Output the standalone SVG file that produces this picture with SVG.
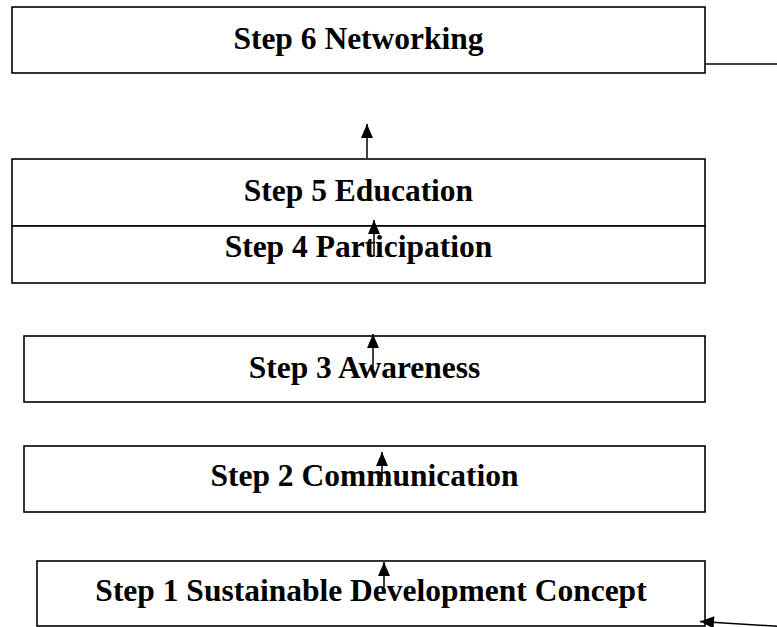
<svg xmlns="http://www.w3.org/2000/svg" width="777" height="627" viewBox="0 0 777 627">
<style>
.box{fill:#fff;stroke:#000;stroke-width:1.6}
.lbl{font-family:"Liberation Serif","Times New Roman",serif;font-weight:bold;font-size:31.5px;fill:#000;text-anchor:middle}
.con{stroke:#000;stroke-width:1.5;fill:none}
</style>
<defs>
<marker id="ah" markerUnits="userSpaceOnUse" markerWidth="14" markerHeight="12" refX="14" refY="6" orient="auto" overflow="visible">
<path d="M0,0 L14,6 L0,12 z" fill="#000"/>
</marker>
</defs>
<rect width="777" height="627" fill="#fff"/>
<g id="step6">
<rect class="box" x="12" y="7" width="693" height="66"/>
<text class="lbl" x="358.5" y="48.5">Step 6 Networking</text>
</g>
<g id="step5">
<rect class="box" x="12" y="159" width="693" height="67"/>
<text class="lbl" x="358.5" y="200.5">Step 5 Education</text>
</g>
<g id="step4">
<rect class="box" x="12" y="226" width="693" height="57"/>
<text class="lbl" x="358.5" y="257">Step 4 Participation</text>
</g>
<g id="step3">
<rect class="box" x="24" y="336" width="681" height="66"/>
<text class="lbl" x="364.5" y="378">Step 3 Awareness</text>
</g>
<g id="step2">
<rect class="box" x="24" y="446" width="681" height="66"/>
<text class="lbl" x="364.5" y="486">Step 2 Communication</text>
</g>
<g id="step1">
<rect class="box" x="37" y="561" width="668" height="65"/>
<text class="lbl" x="371" y="601">Step 1 Sustainable Development Concept</text>
</g>
<g id="connectors">
<line class="con" x1="367" y1="158" x2="367" y2="124" marker-end="url(#ah)"/>
<line class="con" x1="374" y1="256" x2="374" y2="220" marker-end="url(#ah)"/>
<line class="con" x1="373" y1="368" x2="373" y2="334" marker-end="url(#ah)"/>
<line class="con" x1="382" y1="482" x2="382" y2="452" marker-end="url(#ah)"/>
<line class="con" x1="384" y1="587" x2="384" y2="562" marker-end="url(#ah)"/>
<line class="con" x1="705" y1="64" x2="777" y2="64"/>
<line class="con" x1="790" y1="627" x2="700" y2="621.5" marker-end="url(#ah)"/>
</g>
</svg>
